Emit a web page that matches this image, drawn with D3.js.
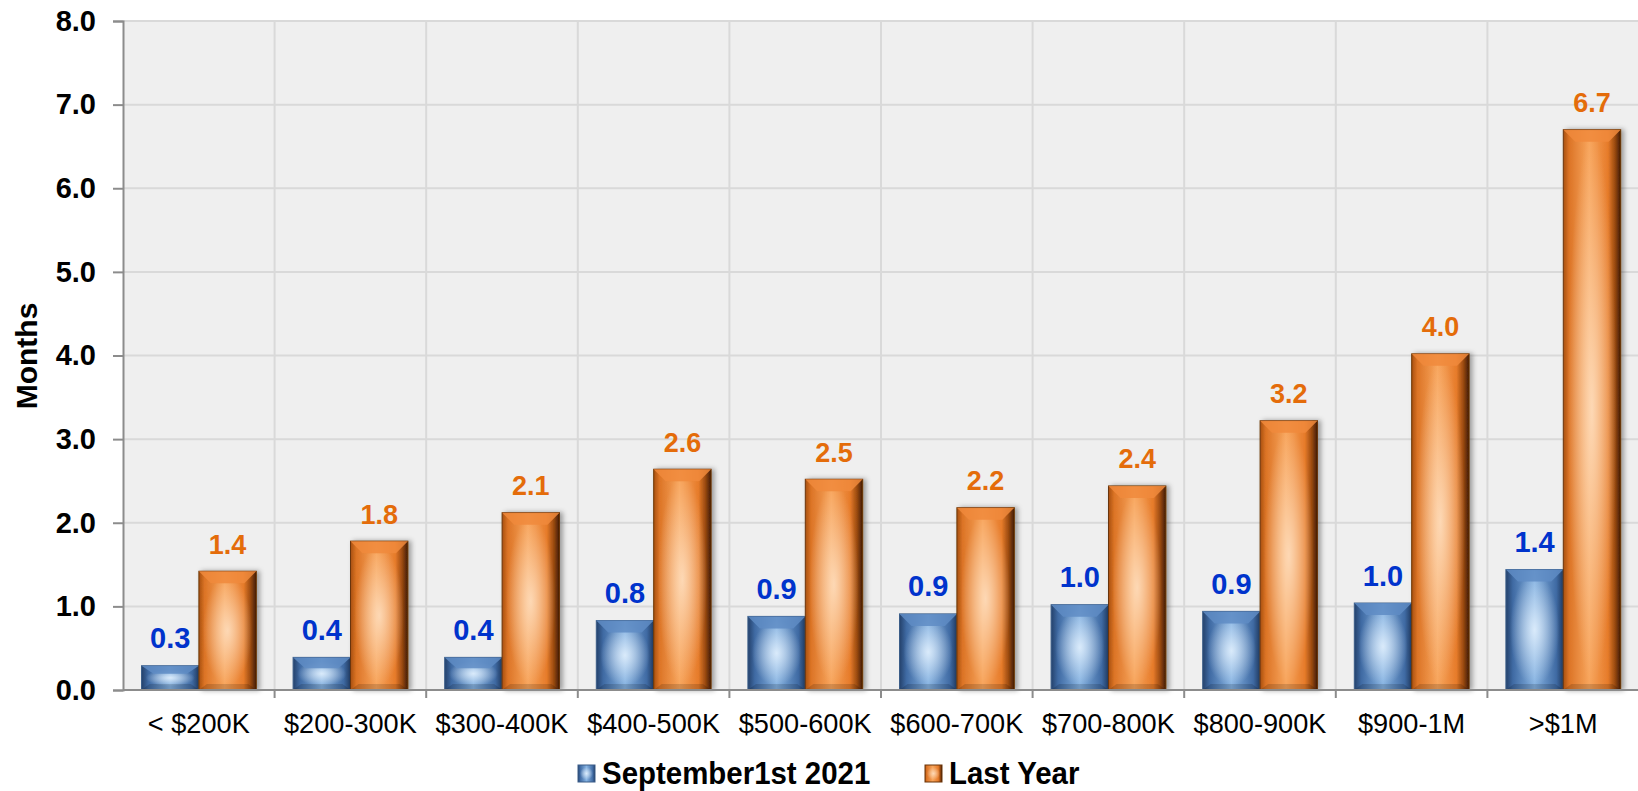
<!DOCTYPE html>
<html lang="en">
<head>
  <meta charset="UTF-8">
  <title>Months of inventory</title>
  <style>
    body { margin: 0; background: #fff; }
    text { font-family: "Liberation Sans", Arial, sans-serif; }
  </style>
</head>
<body>
  <div id="svg"></div>
  <script src="https://d3js.org/d3.v7.min.js"></script>
  <script>
    const categories = ['< $200K', '$200-300K', '$300-400K', '$400-500K', '$500-600K', '$600-700K', '$700-800K', '$800-900K', '$900-1M', '>$1M']
    const seriesNames = ['September1st 2021', 'Last Year']
    const september = [0.29, 0.39, 0.39, 0.83, 0.88, 0.91, 1.02, 0.94, 1.04, 1.44]
    const lastYear = [1.42, 1.78, 2.12, 2.64, 2.52, 2.18, 2.44, 3.22, 4.02, 6.70]
    const yTicks = [0, 1, 2, 3, 4, 5, 6, 7, 8]

    const width = 1638
    const height = 791
    const padding = { top: 21, left: 123, bottom: 101, right: 0 }
    const svg = d3.select('#svg').append('svg').attr('width', width).attr('height', height)

    const defs = svg.append('defs')
    // blue bar look
    const gb = defs.append('linearGradient').attr('id', 'gBlue')
    ;[[0, '#24416b'], [0.12, '#3f6aa3'], [0.5, '#86b3e2'], [0.88, '#3f6aa3'], [1, '#203a60']]
      .forEach(s => gb.append('stop').attr('offset', s[0]).attr('stop-color', s[1]))
    const go = defs.append('linearGradient').attr('id', 'gOrange')
    ;[[0, '#a8500f'], [0.1, '#dc7426'], [0.45, '#f8a55c'], [0.78, '#e67b2a'], [0.9, '#9a4a10'], [1, '#3e1a03']]
      .forEach(s => go.append('stop').attr('offset', s[0]).attr('stop-color', s[1]))
    const rb = defs.append('radialGradient').attr('id', 'rBlue').attr('cx', 0.5).attr('cy', 0.5).attr('r', 0.5)
    rb.append('stop').attr('offset', 0).attr('stop-color', '#e8f4ff').attr('stop-opacity', 0.85)
    rb.append('stop').attr('offset', 1).attr('stop-color', '#e8f4ff').attr('stop-opacity', 0)
    const ro = defs.append('radialGradient').attr('id', 'rOrange').attr('cx', 0.5).attr('cy', 0.5).attr('r', 0.5)
    ro.append('stop').attr('offset', 0).attr('stop-color', '#ffe6cc').attr('stop-opacity', 0.8)
    ro.append('stop').attr('offset', 1).attr('stop-color', '#ffe6cc').attr('stop-opacity', 0)
    const f = defs.append('filter').attr('id', 'shadow').attr('x', '-20%').attr('y', '-10%').attr('width', '150%').attr('height', '120%')
    f.append('feDropShadow').attr('dx', 3).attr('dy', 0).attr('stdDeviation', 2.5).attr('flood-color', '#000').attr('flood-opacity', 0.35)

    const plotW = width - padding.left - padding.right
    const plotH = height - padding.top - padding.bottom

    const xScale = d3.scaleBand().domain(categories).range([padding.left, padding.left + 1516]).padding(0)
    const xInner = d3.scaleBand().domain(seriesNames).range([18.5, 133.3]).padding(0)
    const yScale = d3.scaleLinear().domain([0, 8]).range([height - padding.bottom, padding.top])

    // plot background + grid
    svg.append('rect').attr('x', padding.left).attr('y', padding.top).attr('width', plotW).attr('height', plotH).attr('fill', '#efefef')
    svg.append('g').selectAll('line').data(yTicks.slice(1)).enter().append('line')
      .attr('x1', padding.left).attr('x2', width).attr('y1', d => yScale(d)).attr('y2', d => yScale(d))
      .attr('stroke', '#d9d9d9').attr('stroke-width', 2)
    svg.append('g').selectAll('line').data(categories.slice(1)).enter().append('line')
      .attr('x1', d => xScale(d)).attr('x2', d => xScale(d)).attr('y1', padding.top).attr('y2', yScale(0))
      .attr('stroke', '#d9d9d9').attr('stroke-width', 2)

    const series = [
      { name: seriesNames[0], values: september, fill: 'url(#gBlue)', glow: 'url(#rBlue)', top: '#5f8cc4', edge: '#3b5d88', label: '#0033cc', fs: 29 },
      { name: seriesNames[1], values: lastYear, fill: 'url(#gOrange)', glow: 'url(#rOrange)', top: '#f08a3c', edge: '#6b3508', label: '#e46c0a', fs: 27 }
    ]

    series.forEach(s => {
      const g = svg.append('g')
      const bars = g.selectAll('g').data(s.values).enter().append('g')
        .attr('transform', (d, i) => `translate(${xScale(categories[i]) + xInner(s.name)},0)`)
      const bw = xInner.bandwidth()
      bars.append('rect').attr('x', 0).attr('y', d => yScale(d)).attr('width', bw)
        .attr('height', d => yScale(0) - yScale(d)).attr('fill', s.fill).attr('stroke', s.edge).attr('stroke-width', 1)
        .attr('filter', s.name === seriesNames[1] ? 'url(#shadow)' : null)
      bars.append('rect').attr('x', 4).attr('y', d => yScale(d) + 4).attr('width', bw - 8)
        .attr('height', d => Math.max(0, yScale(0) - yScale(d) - 8)).attr('fill', s.glow)
      // top bevel
      bars.append('path')
        .attr('d', d => {
          const t = yScale(d)
          const h = Math.min(12, (yScale(0) - t) / 3)
          return `M0,${t} L${bw},${t} L${bw - 12},${t + h} L12,${t + h} Z`
        })
        .attr('fill', s.top).attr('opacity', 0.85)
      // bottom bevel
      bars.append('path')
        .attr('d', d => {
          const b = yScale(0)
          return `M0,${b} L${bw},${b} L${bw - 8},${b - 6} L8,${b - 6} Z`
        })
        .attr('fill', '#000').attr('opacity', 0.15)

      g.selectAll('text').data(s.values).enter().append('text')
        .attr('x', (d, i) => xScale(categories[i]) + xInner(s.name) + bw / 2)
        .attr('y', d => yScale(d) - 17.5)
        .attr('text-anchor', 'middle').attr('font-weight', 'bold').attr('font-size', s.fs + 'px')
        .attr('fill', s.label)
        .text(d => d3.format('.1f')(d))
    })

    // axes
    const yAxis = d3.axisLeft(yScale).tickValues(yTicks).tickFormat(d3.format('.1f')).tickSize(10).tickPadding(17)
    const gY = svg.append('g').attr('transform', `translate(${padding.left},0)`).call(yAxis)
    gY.select('.domain').attr('stroke', '#8c8c8c').attr('stroke-width', 2)
    gY.selectAll('.tick line').attr('stroke', '#8c8c8c').attr('stroke-width', 2)
    gY.selectAll('.tick text').attr('font-size', '29px').attr('font-weight', 'bold').attr('fill', '#000')
      .attr('font-family', '"Liberation Sans", Arial, sans-serif')

    const gX = svg.append('g').attr('transform', `translate(0,${yScale(0)})`)
    gX.append('line').attr('x1', padding.left).attr('x2', width).attr('stroke', '#8c8c8c').attr('stroke-width', 2)
    gX.selectAll('line.tk').data(categories.slice(1)).enter().append('line').attr('class', 'tk')
      .attr('x1', d => xScale(d)).attr('x2', d => xScale(d)).attr('y1', 0).attr('y2', 8)
      .attr('stroke', '#8c8c8c').attr('stroke-width', 2)
    gX.selectAll('text').data(categories).enter().append('text')
      .attr('transform', d => `translate(${xScale(d) + xScale.bandwidth() / 2},43) scale(0.97,1)`)
      .attr('text-anchor', 'middle').attr('font-size', '28px').attr('fill', '#000')
      .text(d => d)

    // y title
    svg.append('text').attr('transform', `translate(37,356) rotate(-90)`)
      .attr('text-anchor', 'middle').attr('font-size', '30px').attr('font-weight', 'bold').text('Months')

    // legend
    const legendX = [578, 925]
    const legend = svg.append('g').selectAll('g').data(series).enter().append('g')
      .attr('transform', (d, i) => `translate(${legendX[i]},765)`)
    legend.append('rect').attr('width', 17).attr('height', 17).attr('fill', d => d.fill).attr('stroke', d => d.edge)
    legend.append('rect').attr('x', 2).attr('y', 2).attr('width', 13).attr('height', 13).attr('fill', d => d.glow)
    legend.append('text').attr('transform', 'translate(24,19) scale(0.95,1)')
      .attr('font-size', '31px').attr('font-weight', 'bold').text(d => d.name)
  </script>
</body>
</html>
